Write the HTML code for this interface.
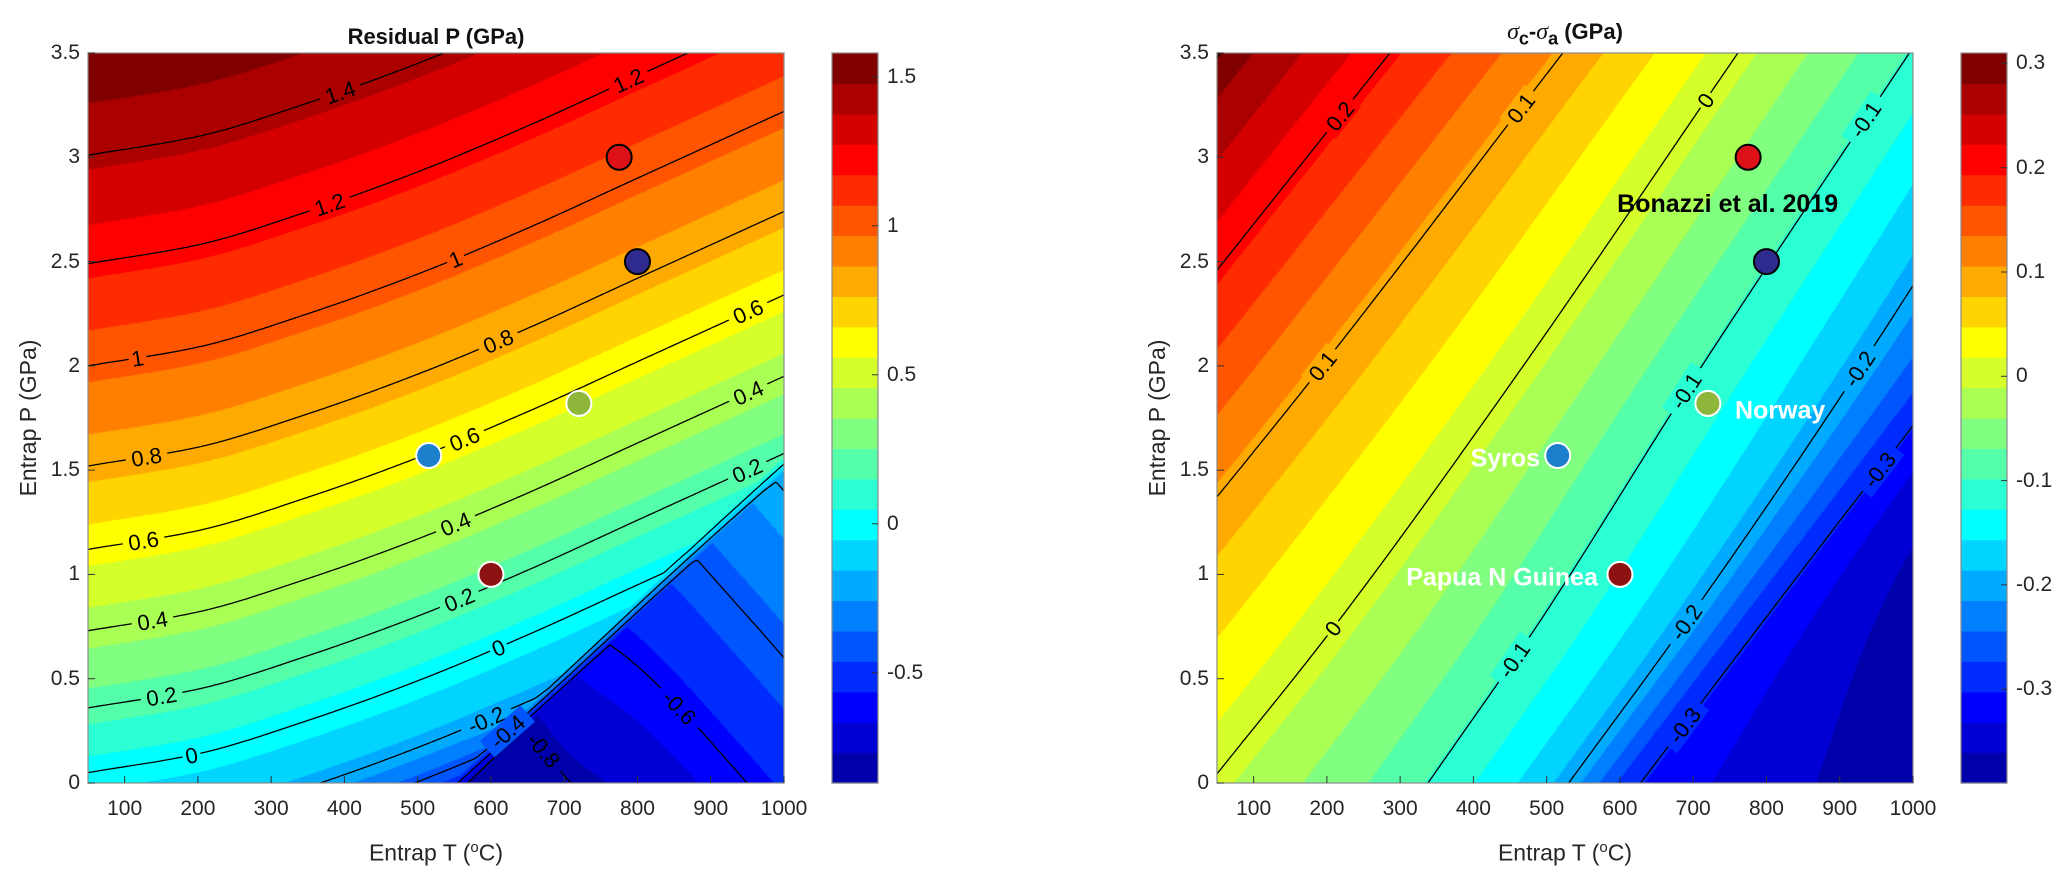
<!DOCTYPE html>
<html><head><meta charset="utf-8">
<style>
body{margin:0;width:2067px;height:879px;background:#fff;position:relative;overflow:hidden;font-family:"Liberation Sans",Arial,sans-serif;color:#262626}
canvas,svg,.abs{position:absolute}
svg{overflow:visible}
.tl{position:absolute;font-size:21px;line-height:21px;white-space:nowrap}
.ttl{position:absolute;font-weight:bold;font-size:22px;text-align:center;line-height:24px;color:#111}
.axl{position:absolute;font-size:23px;line-height:26px;white-space:nowrap;text-align:center;color:#262626}
</style></head><body>
<div class="ttl" style="left:88px;top:25px;width:696px">Residual P (GPa)</div>
<div class="ttl" style="left:1217px;top:20px;width:696px;font-weight:normal"><i style="font-family:'Liberation Serif',serif;font-size:24px">σ</i><sub style="font-weight:bold;font-size:18px">c</sub><b>-</b><i style="font-family:'Liberation Serif',serif;font-size:24px">σ</i><sub style="font-weight:bold;font-size:18px">a</sub> <b>(GPa)</b></div>
<div class="axl" style="left:88px;top:835px;width:696px">Entrap T (<sup style="font-size:15px">o</sup>C)</div>
<div class="axl" style="left:1217px;top:835px;width:696px">Entrap T (<sup style="font-size:15px">o</sup>C)</div>
<div class="axl" style="left:-72px;top:405px;width:200px;transform:rotate(-90deg)">Entrap P (GPa)</div>
<div class="axl" style="left:1057px;top:405px;width:200px;transform:rotate(-90deg)">Entrap P (GPa)</div>
<script>
// ---------- data ----------
const xTicks=[100,200,300,400,500,600,700,800,900,1000];
const yTicks=[0,0.5,1,1.5,2,2.5,3,3.5];
// left panel (Residual P) field profiles
const leftProfX=[-1.5,-0.434,-0.27,0,0.05,0.36,0.73,1.12,1.52,2.0,2.49,3.01,3.5];
const leftProfV=[-1.68,-0.4,-0.2,-0.03,0,0.2,0.4,0.6,0.8,1.0,1.2,1.4,1.55];
const leftShiftT=[50,200,350,500,650,800,1000];
const leftShiftS=[0,0.09,0.25,0.44,0.66,0.9,1.22];
const leftKinkT=[547,1000];
const leftKinkP=[0,1.57];
const leftBetaT=[547,600,640,710,800,950,1000];
const leftBetaV=[-0.8,-0.84,-0.86,-0.80,-0.74,-0.6,-0.55];
const leftBetaSlope=0.25;
const leftLevels=[-0.8,-0.6,-0.4,-0.2,0,0.2,0.4,0.6,0.8,1,1.2,1.4];
const leftLabelLev=[1.4,1.2,1.2,1,1,0.8,0.8,0.6,0.6,0.4,0.4,0.2,0.2,0,0,-0.2,-0.4,-0.8,-0.6,0.6,0.4,0.2];
const leftLabelT=[390,378,795,553,118,130,610,127,560,137,555,150,560,190,604,581,610,657,858,950,950,950];
const leftLabelP=[3.36,2.79,3.32,2.5,2.03,1.55,2.12,1.15,1.67,0.8,1.23,0.43,0.86,0.13,0.69,0.4,0.29,0.11,0.37,2.27,1.88,1.51];
const leftCaxis=[-0.87,1.58];
const leftCbTicks=[1.5,1,0.5,0,-0.5];
// right panel (sigma_c - sigma_a): temperature where each level crosses each pressure row
const rightRowP=[0,0.75,1.93,3.5];
const rightLevelV=[0.3,0.2,0.1,0,-0.1,-0.2,-0.3,-0.36,-0.4];
const rightLevelT=[[-740,-568,-297,55],[-508,-338,-70,286],[-270,-95,178,522],[40,210,454,761],[338,486,699,995],[530,686,916,1200],[628,790,1048,1400],[864,942,1140,1500],[1060,1150,1300,1650]];
const rightLevels=[-0.3,-0.2,-0.1,0,0.1,0.2,0.3];
const rightLabelLev=[0.2,0.1,0,-0.1,0.1,0,-0.1,-0.2,-0.3,-0.3,-0.1,-0.2];
const rightLabelT=[218,470,720,941,200,206,457,690,674,945,693,900];
const rightLabelP=[3.2,3.22,3.27,3.17,1.98,0.74,0.59,0.77,0.32,1.52,1.87,2.05];
const rightCaxis=[-0.39,0.31];
const rightCbTicks=[0.3,0.2,0.1,0,-0.1,-0.2,-0.3];
// samples
const sampleT=[775,800,720,515,600];
const sampleP=[3.0,2.5,1.82,1.57,1.0];
const sampleFill=['#de1018','#2f2a8e','#8db63a','#1c7fcc','#8c1212'];
const sampleStroke=['#000','#000','#fff','#fff','#fff'];
const annText=['Bonazzi et al. 2019','Norway','Syros','Papua N Guinea'];
const annT=[747,757,491,570];
const annP=[2.78,1.79,1.56,0.99];
const annAnchor=['middle','start','end','end'];
const annColor=['#000','#fff','#fff','#fff'];

// ---------- helpers ----------
const W=696,H=730,TOP=53;
const jet=[[0,0,.667],[0,0,.833],[0,0,1],[0,.167,1],[0,.333,1],[0,.5,1],[0,.667,1],[0,.833,1],[0,1,1],[.167,1,.833],[.333,1,.667],[.5,1,.5],[.667,1,.333],[.833,1,.167],[1,1,0],[1,.833,0],[1,.667,0],[1,.5,0],[1,.333,0],[1,.167,0],[1,0,0],[.833,0,0],[.667,0,0],[.5,0,0]];
function xs(T){return (T-50)/950*W}
function ys(P){return (3.5-P)/3.5*H}
function interp(xa,va,x){const n=xa.length;let i;if(x<=xa[0])i=0;else if(x>=xa[n-1])i=n-2;else{i=0;while(!(x>=xa[i]&&x<xa[i+1]))i++;}return va[i]+(va[i+1]-va[i])*(x-xa[i])/(xa[i+1]-xa[i]);}
function pchip(xa,ya,x){const n=xa.length;
 if(x<=xa[0])return ya[0]+(ya[1]-ya[0])/(xa[1]-xa[0])*(x-xa[0]);
 if(x>=xa[n-1])return ya[n-1]+(ya[n-1]-ya[n-2])/(xa[n-1]-xa[n-2])*(x-xa[n-1]);
 let i=0;while(!(x>=xa[i]&&x<xa[i+1]))i++;
 const dl=k=>(ya[k+1]-ya[k])/(xa[k+1]-xa[k]);
 const der=k=>{if(k===0)return dl(0);if(k===n-1)return dl(n-2);
  const d0=dl(k-1),d1=dl(k);if(d0*d1<=0)return 0;const h0=xa[k]-xa[k-1],h1=xa[k+1]-xa[k];
  const w1=2*h1+h0,w2=h1+2*h0;return (w1+w2)/(w1/d0+w2/d1);};
 const h=xa[i+1]-xa[i],t=(x-xa[i])/h,m0=der(i),m1=der(i+1);
 const t2=t*t,t3=t2*t;
 return (2*t3-3*t2+1)*ya[i]+(t3-2*t2+t)*h*m0+(-2*t3+3*t2)*ya[i+1]+(t3-t2)*h*m1;}
function fLeft(T,P){const s=pchip(leftShiftT,leftShiftS,T);const fa=pchip(leftProfX,leftProfV,P-s);
 const pk=interp(leftKinkT,leftKinkP,T);const d=pk-P;let t=d/0.08;t=t<0?0:t>1?1:t;if(t===0)return fa;
 const fb=pchip(leftBetaT,leftBetaV,T)+leftBetaSlope*P;return fa*(1-t)+fb*t;}
function fRight(T,P){const tk=rightLevelT.map(r=>pchip(rightRowP,r,P));return pchip(tk,rightLevelV,T);}
function bin(v,c){let b=Math.floor((v-c[0])/(c[1]-c[0])*24);return b<0?0:b>23?23:b;}
function rgb(b){const c=jet[b];return 'rgb('+Math.round(c[0]*255)+','+Math.round(c[1]*255)+','+Math.round(c[2]*255)+')';}
const NS='http://www.w3.org/2000/svg';

function makePanel(px,f,cax,levels,labLev,labT,labP,cbx,cbTicks,name){
 const cv=document.createElement('canvas');cv.width=W;cv.height=H;
 cv.style.left=px+'px';cv.style.top=TOP+'px';
 
 
 document.body.appendChild(cv);
 const ctx=cv.getContext('2d');const img=ctx.createImageData(W,H);
 for(let j=0;j<H;j++){const P=3.5-(j+0.5)/H*3.5;for(let i=0;i<W;i++){const T=50+(i+0.5)/W*950;
  const c=jet[bin(f(T,P),cax)];const k=(j*W+i)*4;img.data[k]=c[0]*255;img.data[k+1]=c[1]*255;img.data[k+2]=c[2]*255;img.data[k+3]=255;}}
 ctx.putImageData(img,0,0);
 const sv=document.createElementNS(NS,'svg');sv.setAttribute('width',W);sv.setAttribute('height',H);
 sv.style.left=px+'px';sv.style.top=TOP+'px';
 
 
 document.body.appendChild(sv);
 const NX=232,NY=243;const G=[];
 for(let j=0;j<=NY;j++){const row=[];const y=j*H/NY;const P=3.5-y/H*3.5;for(let i=0;i<=NX;i++){const x=i*W/NX;row.push(f(50+x/W*950,P));}G.push(row);}
 const segs={};
 levels.forEach(lev=>{const arr=[];let d='';
  for(let j=0;j<NY;j++)for(let i=0;i<NX;i++){
   const x0=i*W/NX,x1=(i+1)*W/NX,y0=j*H/NY,y1=(j+1)*H/NY;
   const a=G[j][i],b=G[j][i+1],c=G[j+1][i+1],e=G[j+1][i];
   const pts=[];
   if((a-lev)*(b-lev)<0)pts.push([x0+(lev-a)/(b-a)*(x1-x0),y0]);
   if((b-lev)*(c-lev)<0)pts.push([x1,y0+(lev-b)/(c-b)*(y1-y0)]);
   if((c-lev)*(e-lev)<0)pts.push([x1-(lev-c)/(e-c)*(x1-x0),y1]);
   if((e-lev)*(a-lev)<0)pts.push([x0,y1-(lev-e)/(a-e)*(y1-y0)]);
   for(let k=0;k+1<pts.length;k+=2){arr.push([pts[k][0],pts[k][1],pts[k+1][0],pts[k+1][1]]);
    d+='M'+pts[k][0].toFixed(1)+' '+pts[k][1].toFixed(1)+'L'+pts[k+1][0].toFixed(1)+' '+pts[k+1][1].toFixed(1);}
  }
  segs[lev]=arr;
  const p=document.createElementNS(NS,'path');p.setAttribute('d',d);p.setAttribute('stroke','#000');p.setAttribute('stroke-width','1.3');p.setAttribute('fill','none');
  
  
  sv.appendChild(p);
 });
 labLev.forEach((lev,k)=>{const arr=segs[lev];if(!arr||!arr.length)return;
  const tx=xs(labT[k]),ty=ys(labP[k]);let best=null,bd=1e9;
  arr.forEach(s=>{const mx=(s[0]+s[2])/2,my=(s[1]+s[3])/2;if(mx<22||mx>W-22||my<14||my>H-14)return;const dd=(mx-tx)**2+(my-ty)**2;if(dd<bd){bd=dd;best=s;}});
  if(!best)return;
  const mx=(best[0]+best[2])/2,my=(best[1]+best[3])/2;
  let ang=Math.atan2(best[3]-best[1],best[2]-best[0])*180/Math.PI;if(ang>90)ang-=180;if(ang<-90)ang+=180;
  const txt=String(lev);const tw=txt.length*12+6;
  const g=document.createElementNS(NS,'g');g.setAttribute('transform','translate('+mx.toFixed(1)+','+my.toFixed(1)+') rotate('+ang.toFixed(1)+')');
  
  
  const r=document.createElementNS(NS,'rect');r.setAttribute('x',-tw/2);r.setAttribute('y',-11);r.setAttribute('width',tw);r.setAttribute('height',22);
  r.setAttribute('fill',rgb(bin(f(50+mx/W*950,3.5-my/H*3.5),cax)));g.appendChild(r);
  const t=document.createElementNS(NS,'text');t.setAttribute('x',0);t.setAttribute('y',8);t.setAttribute('text-anchor','middle');
  t.setAttribute('font-size','22');t.setAttribute('font-family','Liberation Sans, sans-serif');t.setAttribute('fill','#000');t.textContent=txt;g.appendChild(t);
  sv.appendChild(g);
 });
 const fr=document.createElementNS(NS,'rect');fr.setAttribute('x',0);fr.setAttribute('y',0);fr.setAttribute('width',W);fr.setAttribute('height',H);fr.setAttribute('fill','none');fr.setAttribute('stroke','#8a8a8a');fr.setAttribute('stroke-width','1.2');
 
 
 sv.appendChild(fr);
 xTicks.forEach(T=>{const x=xs(T);
  const l=document.createElementNS(NS,'line');l.setAttribute('x1',x);l.setAttribute('x2',x);l.setAttribute('y1',H);l.setAttribute('y2',H-7);l.setAttribute('stroke','#333');
  
  
  sv.appendChild(l);
  const d=document.createElement('div');d.className='tl';d.textContent=T;d.style.left=(px+x-30)+'px';d.style.width='60px';d.style.textAlign='center';d.style.top='798px';
  
  
  document.body.appendChild(d);});
 yTicks.forEach(P=>{const y=ys(P);
  const l=document.createElementNS(NS,'line');l.setAttribute('x1',0);l.setAttribute('x2',7);l.setAttribute('y1',y);l.setAttribute('y2',y);l.setAttribute('stroke','#333');
  
  
  sv.appendChild(l);
  const d=document.createElement('div');d.className='tl';d.textContent=P;d.style.left=(px-70)+'px';d.style.width='62px';d.style.textAlign='right';d.style.top=(TOP+y-11)+'px';
  
  
  document.body.appendChild(d);});
 sampleT.forEach((T,k)=>{const c=document.createElementNS(NS,'circle');c.setAttribute('cx',xs(T));c.setAttribute('cy',ys(sampleP[k]));c.setAttribute('r','12.5');
  c.setAttribute('fill',sampleFill[k]);c.setAttribute('stroke',sampleStroke[k]);c.setAttribute('stroke-width','2');
  
  
  sv.appendChild(c);});
 const cb=document.createElementNS(NS,'svg');cb.setAttribute('width',46);cb.setAttribute('height',H);cb.style.left=cbx+'px';cb.style.top=TOP+'px';
 
 
 document.body.appendChild(cb);
 for(let b=0;b<24;b++){const r=document.createElementNS(NS,'rect');r.setAttribute('x',0);r.setAttribute('width',46);
  r.setAttribute('y',(H-(b+1)*H/24).toFixed(2));r.setAttribute('height',(H/24+0.6).toFixed(2));r.setAttribute('fill',rgb(b));
  
  
  cb.appendChild(r);}
 const cf=document.createElementNS(NS,'rect');cf.setAttribute('x',0);cf.setAttribute('y',0);cf.setAttribute('width',46);cf.setAttribute('height',H);cf.setAttribute('fill','none');cf.setAttribute('stroke','#8a8a8a');cf.setAttribute('stroke-width','1.2');
 
 
 cb.appendChild(cf);
 cbTicks.forEach(v=>{const y=(cax[1]-v)/(cax[1]-cax[0])*H;
  const l=document.createElementNS(NS,'line');l.setAttribute('x1',46);l.setAttribute('x2',40);l.setAttribute('y1',y);l.setAttribute('y2',y);l.setAttribute('stroke','#333');
  
  
  cb.appendChild(l);
  const d=document.createElement('div');d.className='tl';d.textContent=v;d.style.left=(cbx+55)+'px';d.style.top=(TOP+y-11)+'px';
  
  
  document.body.appendChild(d);});
 return sv;
}
makePanel(88,fLeft,leftCaxis,leftLevels,leftLabelLev,leftLabelT,leftLabelP,832,leftCbTicks,'residual-p');
const rsv=makePanel(1217,fRight,rightCaxis,rightLevels,rightLabelLev,rightLabelT,rightLabelP,1961,rightCbTicks,'stress-diff');
annText.forEach((s,k)=>{const t=document.createElementNS(NS,'text');t.setAttribute('x',xs(annT[k]));t.setAttribute('y',ys(annP[k])+9);
 t.setAttribute('text-anchor',annAnchor[k]);t.setAttribute('font-size','25');t.setAttribute('font-weight','bold');
 t.setAttribute('font-family','Liberation Sans, sans-serif');t.setAttribute('fill',annColor[k]);t.textContent=s;
 
 
 rsv.appendChild(t);});
</script>
</body></html>
